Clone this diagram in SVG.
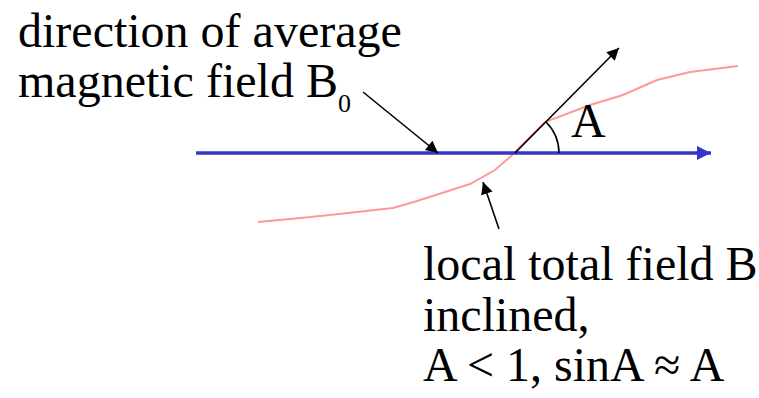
<svg xmlns="http://www.w3.org/2000/svg" width="759" height="398" viewBox="0 0 759 398">
<defs>
<style>
.t{font-size:48px;fill:#000}
.s{font-size:26px}
.blk{stroke:#000;stroke-width:1.6;fill:none}
</style>
<marker id="ab" viewBox="0 0 10 10" refX="10" refY="5" markerUnits="userSpaceOnUse" markerWidth="17" markerHeight="14" orient="auto"><path d="M0,0 L10,5 L0,10 z" fill="#3535c8"/></marker>
<marker id="ak" viewBox="0 0 10 10" refX="10" refY="5" markerUnits="userSpaceOnUse" markerWidth="15" markerHeight="12" orient="auto"><path d="M0,0 L10,5 L0,10 z" fill="#000"/></marker>
</defs>
<rect width="759" height="398" fill="#fff"/>
<g id="curve">
<path d="M258,222 L290,219 L330,215 L393,208 L417,201 L470,184 L495,170 L510,157 L515,152 L530,137 L545,122 L590,105 L623,95 L657,80 L690,72 L738,66" fill="none" stroke="#ff9898" stroke-width="2"/>
</g>
<g id="connectors">
<line x1="196" y1="153" x2="711" y2="153" stroke="#3535c8" stroke-width="3.5" marker-end="url(#ab)"/>
<line class="blk" x1="515" y1="153" x2="619" y2="48" marker-end="url(#ak)"/>
<path class="blk" d="M546,122 A44,44 0 0 1 559,153"/>
<line class="blk" x1="363" y1="92" x2="438" y2="153" marker-end="url(#ak)"/>
<line class="blk" x1="499" y1="229" x2="483" y2="182" marker-end="url(#ak)"/>
</g>
<g font-family="Liberation Serif, DejaVu Serif, Times New Roman, serif">
<g id="label-top">
<text class="t" x="18" y="47">direction of average</text>
<text class="t" x="18" y="97">magnetic field B<tspan class="s" dy="15">0</tspan></text>
</g>
<g id="label-A">
<text class="t" x="571" y="137">A</text>
</g>
<g id="label-bottom">
<text class="t" x="423" y="280">local total field B</text>
<text class="t" x="423" y="331">inclined,</text>
<text class="t" x="423" y="381">A &lt; 1, sinA ≈ A</text>
</g>
</g>
</svg>
